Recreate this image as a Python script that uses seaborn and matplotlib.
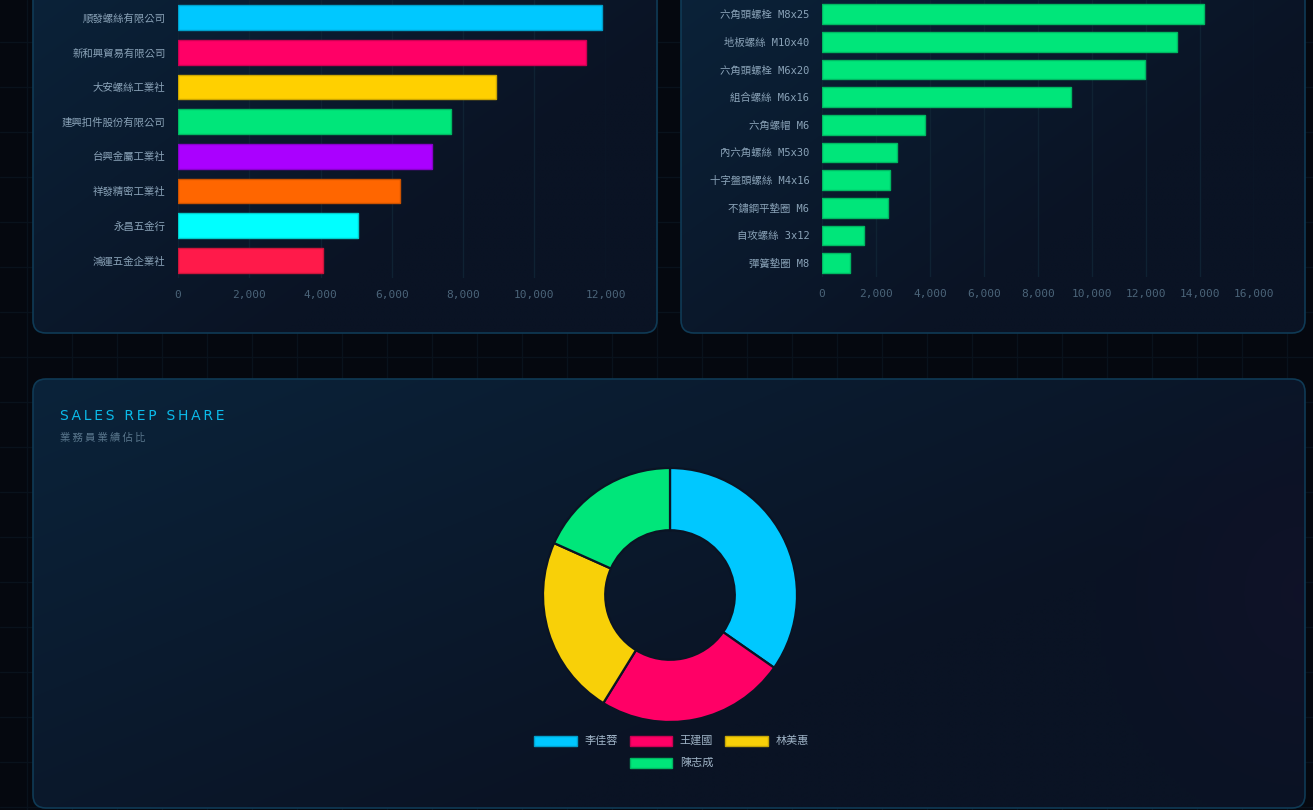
import numpy as np
import pandas as pd
import seaborn as sns
import matplotlib.pyplot as plt
from matplotlib.patches import FancyBboxPatch, Rectangle
from matplotlib.colors import to_rgb
from matplotlib.ticker import FuncFormatter

# Top customers (left panel)
customers = ['順發螺絲有限公司', '新和興貿易有限公司', '大安螺絲工業社', '建興扣件股份有限公司',
             '台興金屬工業社', '祥發精密工業社', '永昌五金行', '鴻運五金企業社']
customer_sales = [11900, 11440, 8930, 7660, 7120, 6230, 5060, 4060]
customer_colors = ['#00C8FF', '#FF0066', '#FFD000', '#00E67A',
                   '#AA00FF', '#FF6600', '#00FFFF', '#FF1A4A']

# Top products (right panel)
products = ['六角頭螺栓 M8x25', '地板螺絲 M10x40', '六角頭螺栓 M6x20', '組合螺絲 M6x16',
            '六角螺帽 M6', '內六角螺絲 M5x30', '十字盤頭螺絲 M4x16', '不鏽鋼平墊圈 M6',
            '自攻螺絲 3x12', '彈簧墊圈 M8']
product_sales = [14150, 13130, 11960, 9210, 3800, 2770, 2500, 2440, 1540, 1020]
product_color = '#00E67A'

# Sales rep share (bottom panel)
reps = ['李佳蓉', '王建國', '林美惠', '陳志成']
rep_share = [34.7, 24.1, 22.9, 18.3]
rep_colors = ['#00C8FF', '#FF0066', '#F8D008', '#00E67A']

W, H = 1313, 810
PAGE_BG = '#05080f'
TICK_Y = '#8aa3b8'
TICK_X = '#4b6479'
GRID = '#0f2233'

sns.set_style('dark')
plt.rcParams['font.family'] = ['DejaVu Sans Mono', 'Noto Sans CJK TC']

fig = plt.figure(figsize=(W / 100, H / 100), dpi=100, facecolor=PAGE_BG)


def px_axes(x0, y0, x1, y1, **kw):
    return fig.add_axes([x0 / W, 1 - y1 / H, (x1 - x0) / W, (y1 - y0) / H], **kw)


def darker(c, f=0.8):
    r, g, b = to_rgb(c)
    return (r * f, g * f, b * f)


def spaced(s, sep='\u2009'):
    return sep.join(s)


# page background with faint grid and the three panels
bg = px_axes(0, 0, W, H)
bg.set_zorder(-10)
bg.set_xlim(0, W)
bg.set_ylim(H, 0)
bg.axis('off')
bg.add_patch(Rectangle((0, 0), W, H, color=PAGE_BG))
for gx in np.arange(27, W, 45):
    bg.axvline(gx, color='#09121c', lw=1)
for gy in np.arange(42 - 45, H, 45):
    bg.axhline(gy, color='#09121c', lw=1)


def panel(x0, y0, x1, y1, glow=False):
    box = FancyBboxPatch((x0, y0), x1 - x0, y1 - y0,
                         boxstyle='round,pad=0,rounding_size=13',
                         transform=bg.transData, fc='none', ec='#0f3a55', lw=1.2, zorder=3)
    yy, xx = np.mgrid[0:1:120j, 0:1:240j]
    t = np.clip((xx * 0.55 + yy * 0.45) * 1.5, 0, 1)[..., None]
    c0 = np.array(to_rgb('#0b233a'))
    c1 = np.array(to_rgb('#0a1324'))
    img = c0 * (1 - t) + c1 * t
    if glow:
        d = np.sqrt(((xx - 1.0) / 0.16) ** 2 + ((yy - 0.5) / 0.55) ** 2)
        a = np.clip(1 - d, 0, 1)[..., None] * 0.35
        img = img * (1 - a) + np.array(to_rgb('#1a1030')) * a
    im = bg.imshow(img, extent=(x0, x1, y1, y0), aspect='auto', zorder=2, interpolation='bilinear')
    bg.add_patch(box)
    im.set_clip_path(box)


panel(33, -40, 657, 333)
panel(681, -40, 1305, 333)
panel(33, 379, 1305, 808, glow=True)
bg.set_xlim(0, W)
bg.set_ylim(H, 0)


def hbar(ax, labels, values, colors, xmax):
    df = pd.DataFrame({'label': labels, 'value': values})
    sns.barplot(data=df, x='value', y='label', hue='label', palette=colors,
                legend=False, width=0.71, saturation=1, ax=ax)
    for p, c in zip(ax.patches, colors):
        p.set_edgecolor(darker(c))
        p.set_linewidth(1)
    ax.set_facecolor('none')
    ax.set_xlim(0, xmax)
    ax.set_xticks(range(0, xmax + 1, 2000))
    ax.xaxis.set_major_formatter(FuncFormatter(lambda v, _: f'{int(v):,}'))
    ax.grid(axis='x', color=GRID, lw=1)
    ax.grid(axis='y', visible=False)
    ax.set_axisbelow(True)
    for s in ax.spines.values():
        s.set_visible(False)
    ax.set_xlabel('')
    ax.set_ylabel('')
    ax.tick_params(axis='y', length=0, pad=9, labelsize=7.5, labelcolor=TICK_Y)
    ax.tick_params(axis='x', length=0, pad=9, labelsize=8, labelcolor=TICK_X)


ax1 = px_axes(178, 0.4, 605.5, 277.6)
hbar(ax1, customers, customer_sales, customer_colors, 12000)

ax2 = px_axes(822, 0.4, 1254, 276.8)
hbar(ax2, products, product_sales, [product_color] * len(products), 16000)

# bottom panel heading
fig.text(60 / W, 1 - 416 / H, spaced('SALES REP SHARE'), color='#0bbbea', fontsize=10,
         family=['DejaVu Sans', 'Noto Sans CJK TC'], va='center', ha='left')
fig.text(60 / W, 1 - 438 / H, spaced('業務員業績佔比'), color='#5a778d', fontsize=7.5,
         family=['Noto Sans CJK TC', 'DejaVu Sans'], va='center', ha='left')

# doughnut
r = 127
ax3 = px_axes(670 - r, 595 - r, 670 + r, 595 + r)
ax3.pie(rep_share, colors=rep_colors, startangle=90, counterclock=False, radius=1,
        wedgeprops=dict(width=0.49, edgecolor='#0a1424', linewidth=1.6))
ax3.set_xlim(-1, 1)
ax3.set_ylim(-1, 1)
ax3.set_aspect('equal')
ax3.axis('off')

# legend (two rows, centred like the original)
rows = [reps[:3], reps[3:]]
row_y = [741, 763]
item_w = 95.5
for row, cy in zip(rows, row_y):
    x_start = 670 - item_w * len(row) / 2 + 7.5
    for i, name in enumerate(row):
        k = reps.index(name)
        bx = x_start + i * item_w
        bg.add_patch(Rectangle((bx, cy - 4.6), 42.7, 9.3, fc=rep_colors[k],
                               ec=darker(rep_colors[k]), lw=1, zorder=5))
        bg.text(bx + 50, cy, name, color='#9fb3c6', fontsize=8,
                family=['Noto Sans CJK TC', 'DejaVu Sans'], va='center', ha='left', zorder=5)

fig.savefig('out.png', dpi=100, facecolor=PAGE_BG)
